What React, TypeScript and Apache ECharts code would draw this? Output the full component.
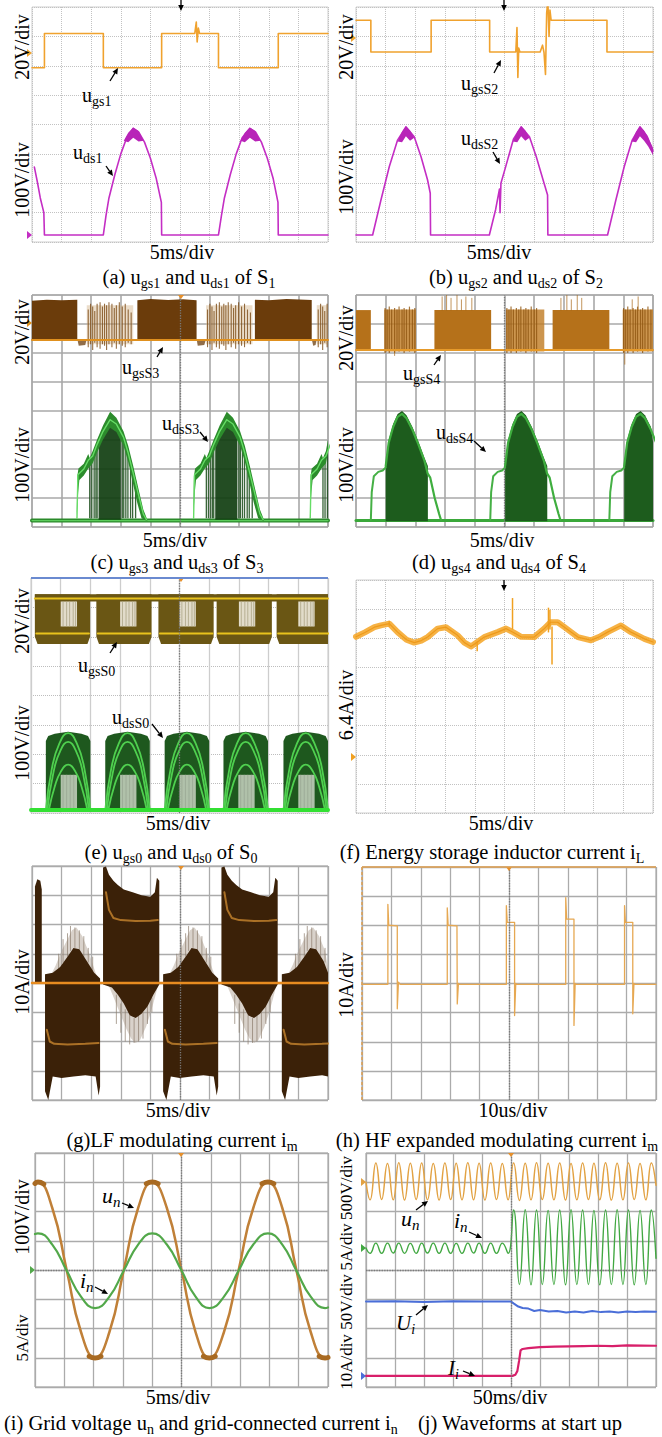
import React, { useEffect, useRef } from 'react';
import * as echarts from 'echarts';

type P = [number, number];
type V = [number, number, number];

// ---------------- (a) S1 ----------------
const A_UGS1: P[] = [[0,5.93],[0.42,5.93],[0.42,7.1],[2.41,7.1],[2.41,5.93],[4.38,5.93],[4.38,7.1],[5.5,7.1],[5.55,7.49],[5.58,6.81],[5.62,7.28],[5.66,7.1],[6.3,7.1],[6.3,5.93],[8.32,5.93],[8.32,7.1],[10,7.1]];
const A_UDS1: P[] = [[0.08,2.55],[0.18,2.05],[0.28,1.5],[0.4,1.0],[0.42,0.24],[2.41,0.24],[2.5,0.9],[2.6,1.5],[2.8,2.3],[3.0,3.0],[3.2,3.55],[3.42,3.87],[3.6,3.75],[3.8,3.4],[4.0,2.85],[4.2,2.15],[4.37,1.35],[4.38,0.24],[6.3,0.24],[6.4,0.9],[6.5,1.5],[6.7,2.3],[6.9,3.0],[7.1,3.55],[7.36,3.87],[7.55,3.75],[7.75,3.4],[7.95,2.85],[8.15,2.15],[8.31,1.35],[8.32,0.24],[10,0.24]];
const A_UDS1_PEAKS: P[][] = [
  [[3.1,3.45],[3.25,3.72],[3.42,3.9],[3.6,3.78],[3.78,3.45],[3.6,3.42],[3.42,3.55],[3.25,3.4]],
  [[7.04,3.45],[7.19,3.72],[7.36,3.9],[7.54,3.78],[7.72,3.45],[7.54,3.42],[7.36,3.55],[7.19,3.4]],
];

// ---------------- (b) S2 ----------------
const B_UGS2: P[] = [[0,7.55],[0.5,7.55],[0.5,6.47],[2.53,6.47],[2.53,7.55],[4.5,7.55],[4.5,6.47],[5.38,6.47],[5.42,7.3],[5.45,5.6],[5.48,6.6],[5.52,6.47],[6.2,6.47],[6.28,6.7],[6.33,6.45],[6.38,5.7],[6.42,7.8],[6.46,8.2],[6.5,7.0],[6.53,7.9],[6.57,7.55],[8.45,7.55],[8.45,6.47],[10,6.47]];
const B_UDS2: P[] = [[0,0.24],[0.56,0.24],[0.84,1.43],[1.12,2.56],[1.4,3.47],[1.68,3.92],[1.96,3.58],[2.19,2.9],[2.41,2.11],[2.5,1.66],[2.51,0.24],[4.49,0.24],[4.7,1.1],[4.83,1.8],[4.85,1.0],[4.88,2.0],[5.05,2.6],[5.3,3.5],[5.56,3.92],[5.84,3.58],[6.07,2.9],[6.3,2.11],[6.45,1.6],[6.46,0.24],[8.47,0.24],[8.75,1.43],[9.03,2.56],[9.3,3.47],[9.56,3.92],[9.8,3.6],[10,3.1]];
const B_UDS2_PEAKS: P[][] = [
  [[1.4,3.42],[1.55,3.75],[1.68,3.94],[1.82,3.8],[1.96,3.55],[1.82,3.45],[1.68,3.6],[1.55,3.4]],
  [[5.28,3.42],[5.43,3.75],[5.56,3.94],[5.7,3.8],[5.84,3.55],[5.7,3.45],[5.56,3.6],[5.43,3.4]],
  [[9.28,3.42],[9.43,3.75],[9.56,3.94],[9.7,3.8],[9.84,3.55],[10,3.2],[10,2.95],[9.84,3.25],[9.7,3.45],[9.56,3.6],[9.43,3.4]],
];

// ---------------- (c) S3 ----------------
const C_GS_BLOCKS: P[][] = [
  [[0,6.48],[0,7.8],[0.5,7.84],[1.0,7.82],[1.53,7.84],[1.53,6.48]],
  [[3.56,6.48],[3.56,7.82],[4.0,7.86],[4.6,7.83],[5.1,7.85],[5.56,7.82],[5.56,6.48]],
  [[7.53,6.48],[7.53,7.84],[8.0,7.82],[8.6,7.86],[9.45,7.83],[9.45,6.48]],
];
const C_GS_SPARSE: P[][] = [
  [[1.85,6.3],[1.85,7.65],[3.42,7.65],[3.42,6.3]],
  [[5.88,6.3],[5.88,7.65],[7.45,7.65],[7.45,6.3]],
  [[9.62,6.3],[9.62,7.65],[10,7.65],[10,6.3]],
];
const C_GS_HATCH: V[] = [[1.9,6.2,7.5],[1.98,6.3,7.7],[2.05,6.1,7.6],[2.12,6.35,7.45],[2.2,6.2,7.7],[2.3,6.15,7.75],[2.38,6.3,7.6],[2.45,6.25,7.7],[2.52,6.1,7.65],[2.6,6.3,7.75],[2.7,6.2,7.7],[2.78,6.35,7.55],[2.85,6.15,7.65],[2.95,6.3,7.75],[3.05,6.25,7.6],[3.15,6.2,7.7],[3.25,6.35,7.5],[3.35,6.3,7.4]];
const C_GS_HATCH_SHIFT = [0, 4.03, 7.77];
const C_GS_DIPS: P[][] = [
  [[1.53,6.48],[1.58,6.25],[1.8,6.28],[1.85,6.48]],
  [[5.56,6.48],[5.6,6.25],[5.82,6.28],[5.88,6.48]],
  [[9.45,6.48],[9.5,6.25],[9.58,6.28],[9.62,6.48]],
];
const C_GS_BASE: P[] = [[0,6.45],[10,6.45]];
const C_DS_BAND: P[] = [[1.5,0.2],[1.51,0.3],[1.53,1.75],[1.57,2.02],[1.75,2.18],[1.9,2.52],[1.95,2.38],[2.05,2.62],[2.2,3.02],[2.4,3.5],[2.64,3.97],[2.85,3.77],[3.09,3.3],[3.25,2.8],[3.42,2.1],[3.6,1.3],[3.76,0.6],[3.87,0.32],[3.9,0.2],[3.7,0.3],[3.55,0.85],[3.4,1.55],[3.25,2.25],[3.09,2.8],[2.85,3.28],[2.64,3.42],[2.4,3.02],[2.2,2.58],[2.05,2.2],[1.9,2.02],[1.75,1.78],[1.6,1.62],[1.56,1.2]];
const C_DS_DARK: P[] = [[2.25,0.25],[2.25,3.0],[2.4,3.35],[2.64,3.8],[2.85,3.6],[3.0,3.25],[3.0,0.25]];
const C_DS_VL: V[] = [[1.95,0.3,2.3],[2.02,0.3,2.4],[2.1,0.3,2.6],[2.16,0.3,2.75],[2.2,0.3,2.85],[3.05,0.3,3.1],[3.1,0.3,3.0],[3.17,0.3,2.8],[3.24,0.3,2.6],[3.33,0.3,2.3],[3.4,0.3,2.0],[3.5,0.3,1.6]];
const C_DS_CORE: P[] = [[1.52,0.3],[1.55,1.8],[1.75,2.0],[1.9,2.3],[2.05,2.45],[2.2,2.85],[2.4,3.3],[2.64,3.7],[2.85,3.55],[3.09,3.1],[3.25,2.55],[3.42,1.85],[3.6,1.1],[3.76,0.45],[3.87,0.25]];
const C_DS_SHIFT = [0, 3.94, 7.88];
const C_DS_BASE: P[] = [[0,0.22],[10,0.22]];

// ---------------- (d) S4 ----------------
const D_GS_SOLID: P[][] = [
  [[0,6.1],[0,7.48],[0.5,7.48],[0.5,6.1]],
  [[2.64,6.1],[2.64,7.48],[4.55,7.48],[4.55,6.1]],
  [[6.62,6.1],[6.62,7.48],[8.53,7.48],[8.53,6.1]],
];
const D_GS_DENSE: P[][] = [
  [[0.95,6.05],[0.95,7.5],[2.02,7.5],[2.02,6.05]],
  [[5.05,6.05],[5.05,7.5],[6.34,7.5],[6.34,6.05]],
  [[8.98,6.05],[8.98,7.5],[10,7.5],[10,6.05]],
];
const D_GS_VL: V[] = [[0.98,6.0,7.55],[1.05,6.1,7.5],[1.12,6.0,7.6],[1.2,6.1,7.5],[1.3,6.0,7.55],[1.38,6.1,7.5],[1.45,6.05,7.6],[1.55,6.1,7.5],[1.62,6.0,7.55],[1.7,6.1,7.5],[1.8,6.05,7.6],[1.9,6.1,7.5],[1.98,6.0,7.55]];
const D_GS_VL_SHIFT = [0, 4.1, 8.03];
const D_GS_SPIKES: V[] = [[2.9,7.45,7.95],[3.05,7.45,8.0],[3.2,7.45,7.9],[3.4,7.45,8.0],[3.55,7.45,7.85],[3.7,7.45,7.95],[3.9,7.45,7.9],[6.9,7.45,7.9],[7.1,7.45,8.0],[7.25,7.45,7.85],[7.45,7.45,8.0],[7.6,7.45,7.9],[9.3,7.45,7.85],[9.5,7.45,7.95],[9.05,5.6,6.1],[1.3,5.9,6.1]];
const D_GS_BASE: P[] = [[0,6.1],[10,6.1]];
const D_DS_RISE: P[] = [[0.5,0.25],[0.53,1.2],[0.6,1.75],[0.75,1.9],[0.9,1.95],[1.0,2.05]];
const D_DS_DARK: P[] = [[1.0,0.2],[1.0,2.2],[1.1,3.0],[1.25,3.55],[1.4,3.9],[1.55,4.0],[1.7,3.85],[1.9,3.45],[2.1,2.95],[2.3,2.4],[2.42,2.1],[2.42,0.2]];
const D_DS_TOP: P[] = [[1.0,2.1],[1.1,2.9],[1.25,3.45],[1.4,3.8],[1.55,3.9],[1.7,3.75],[1.9,3.35],[2.1,2.85],[2.3,2.3],[2.41,1.85],[2.5,1.7],[2.65,1.0],[2.8,0.45],[2.86,0.25]];
const D_DS_SHIFT = [0, 4.02, 8.03];
const D_DS_BASE: P[] = [[0,0.22],[10,0.22]];

// ---------------- (e) S0 ----------------
const E_GS_CUP: P[] = [[0.13,7.45],[1.99,7.45],[1.99,6.0],[1.9,5.75],[0.22,5.75],[0.13,6.0]];
const E_GS_SHIFT = [0, 2.07, 4.16, 6.12, 8.14];
const E_GS_TOPBAND: P[] = [[0.13,7.2],[0.13,7.45],[10,7.45],[10,7.2]];
const E_GS_STRIPE: P[] = [[1.0,6.35],[1.0,7.2],[1.55,7.2],[1.55,6.35]];
const E_STRIPE_SHIFT = [0, 2, 4, 6, 8];
const E_GS_STRIPE_VL: V[] = [[1.08,6.35,7.2],[1.2,6.35,7.2],[1.3,6.35,7.2],[1.42,6.35,7.2],[1.5,6.35,7.2]];
const E_GS_HI: P[] = [[0.13,7.3],[10,7.3]];
const E_GS_LO: P[] = [[0.18,6.11],[1.95,6.11]];
const E_DS_HUMP: P[] = [[0.5,0.1],[0.5,2.45],[0.58,2.62],[0.8,2.7],[1.25,2.77],[1.7,2.7],[1.92,2.62],[2.0,2.45],[2.0,0.1]];
const E_DS_SHIFT = [0, 2.0, 4.0, 5.98, 8.0];
const E_DS_ARCS: P[][] = [
  [[0.5,0.1],[0.7,1.5],[0.95,2.35],[1.25,2.72],[1.55,2.35],[1.8,1.5],[2.0,0.1]],
  [[0.55,0.1],[0.75,1.35],[0.98,2.1],[1.25,2.42],[1.52,2.1],[1.75,1.35],[1.95,0.1]],
  [[0.6,0.1],[0.8,0.9],[1.0,1.4],[1.25,1.65],[1.5,1.4],[1.7,0.9],[1.9,0.1]],
];
const E_DS_STRIPE: P[] = [[1.0,0.14],[1.0,1.3],[1.55,1.3],[1.55,0.14]];
const E_DS_STRIPE_VL: V[] = [[1.08,0.14,1.3],[1.2,0.14,1.3],[1.32,0.14,1.3],[1.44,0.14,1.3]];
const E_DS_BASE: P[] = [[0,0.1],[10,0.1]];

// ---------------- (f) iL ----------------
const F_IL: P[] = [[0,6.05],[0.3,6.2],[0.62,6.38],[0.84,6.44],[1.12,6.5],[1.4,6.21],[1.7,5.95],[1.96,5.85],[2.2,5.92],[2.41,6.04],[2.75,6.33],[3.03,6.38],[3.42,6.1],[3.65,5.85],[3.87,5.72],[4.1,5.88],[4.32,6.04],[4.77,6.21],[5.05,6.33],[5.3,6.2],[5.56,6.05],[6.0,6.04],[6.34,6.33],[6.55,6.55],[6.79,6.55],[7.02,6.38],[7.47,6.04],[7.91,5.93],[8.2,6.05],[8.47,6.21],[8.92,6.44],[9.26,6.21],[9.71,5.98],[10,5.87]];
const F_SPIKES: V[] = [[5.27,6.3,7.38],[6.48,6.2,7.05],[6.53,6.3,6.98],[6.6,5.1,6.4],[4.08,5.55,5.9],[1.12,6.4,6.6]];

// ---------------- (g) LF im ----------------
const G_UP_DARK: P[] = [[2.4,3.95],[2.4,7.95],[2.5,7.98],[2.6,7.7],[2.75,7.5],[2.9,7.35],[3.1,7.2],[3.4,7.1],[3.7,7.0],[4.0,6.95],[4.15,7.1],[4.22,7.6],[4.3,7.5],[4.3,3.95],[4.1,3.6],[3.9,3.2],[3.7,2.95],[3.5,2.8],[3.3,2.9],[3.1,3.3],[2.9,3.6],[2.7,3.85]];
const G_UP_LIGHT: P[] = [[2.6,3.9],[2.8,3.4],[3.0,2.9],[3.2,2.4],[3.35,2.1],[3.5,1.95],[3.65,2.05],[3.85,2.5],[4.0,2.95],[4.15,3.5],[4.25,3.9]];
const G_DOWN_DARK: P[] = [[0.44,4.3],[0.7,4.35],[0.95,4.55],[1.2,4.9],[1.4,5.2],[1.6,5.15],[1.85,4.75],[2.1,4.35],[2.3,4.15],[2.3,0.45],[2.25,0.15],[2.15,0.8],[1.8,0.85],[1.4,0.8],[1.0,0.75],[0.7,0.8],[0.55,0.0],[0.44,0.3]];
const G_DOWN_LIGHT: P[] = [[0.6,4.2],[0.8,4.6],[1.0,5.1],[1.2,5.5],[1.35,5.8],[1.5,5.9],[1.7,5.6],[1.9,5.1],[2.1,4.5],[2.2,4.2]];
const G_UP_SHIFT = [0, 4.0];
const G_DOWN_SHIFT = [0, 3.99, 8.0];
const G_UP_SPIKES: V[] = [[2.85,2.6,3.6],[3.0,2.3,3.3],[3.15,2.0,3.1],[3.3,1.9,2.9],[3.45,1.95,2.8],[3.6,2.0,2.9],[3.75,2.1,3.0],[3.9,2.6,3.2],[4.05,3.0,3.5]];
const G_DOWN_SPIKES: V[] = [[0.9,4.5,5.0],[1.05,4.7,5.5],[1.2,4.9,5.7],[1.3,5.1,5.95],[1.45,5.2,5.9],[1.6,5.15,5.8],[1.75,4.9,5.6],[1.9,4.7,5.2],[2.05,4.4,4.9]];
const G_LEFT_UP: P[] = [[0.1,4.0],[0.1,7.3],[0.18,7.55],[0.28,7.5],[0.33,7.2],[0.33,4.0]];
const G_UP_INNER: P[] = [[2.5,7.1],[2.6,6.5],[2.75,6.22],[3.0,6.15],[3.5,6.12],[4.0,6.13],[4.25,6.15]];
const G_DOWN_INNER: P[] = [[0.5,2.4],[0.6,2.0],[0.75,1.92],[1.2,1.9],[1.8,1.92],[2.25,1.95]];
const G_CENTER: P[] = [[0,4.0],[10,4.0]];

// ---------------- (h) HF im ----------------
const H_IM: P[] = [[0,3.97],[0.88,3.97],[0.88,6.72],[0.91,6.0],[1.2,5.98],[1.2,3.13],[1.24,4.05],[1.3,3.97],[2.9,3.97],[2.9,6.6],[2.93,6.0],[3.23,5.98],[3.24,3.3],[3.28,4.0],[3.32,3.97],[4.91,3.97],[4.91,6.67],[4.94,6.1],[5.19,6.1],[5.19,2.9],[5.23,4.0],[5.27,3.97],[6.93,3.97],[6.93,6.95],[6.96,6.21],[7.21,6.21],[7.21,2.56],[7.25,4.0],[7.29,3.97],[8.93,3.97],[8.93,6.67],[8.96,6.1],[9.21,6.1],[9.21,2.96],[9.25,4.0],[9.29,3.97],[10,3.97]];

// ---------------- (i) un, in ----------------
const I_UN: P[] = [[0,6.97],[0.1,7.0],[0.59,6.12],[1.08,4.0],[1.57,1.88],[2.05,1.0],[2.54,1.88],[3.03,4.0],[3.52,6.12],[4.0,7.0],[4.5,6.12],[5.0,4.0],[5.48,1.88],[5.95,1.0],[6.45,1.88],[6.95,4.0],[7.45,6.12],[7.95,7.0],[8.44,6.12],[8.92,4.0],[9.41,1.88],[9.9,1.0],[10,1.03]];
const I_UN_THICK: P[][] = [
  [[0,6.96],[0.1,7.01],[0.3,6.94]],
  [[1.85,1.05],[2.05,0.99],[2.25,1.05]],
  [[3.8,6.95],[4.0,7.01],[4.2,6.95]],
  [[5.75,1.05],[5.95,0.99],[6.15,1.05]],
  [[7.75,6.95],[7.95,7.01],[8.15,6.95]],
  [[9.7,1.05],[9.9,0.99],[10,1.01]],
];
const I_IN: P[] = [[0,5.23],[0.1,5.25],[0.59,4.87],[1.08,3.98],[1.57,3.09],[2.05,2.7],[2.54,3.09],[3.03,3.98],[3.52,4.87],[4.0,5.25],[4.5,4.87],[5.0,3.98],[5.48,3.09],[5.95,2.7],[6.45,3.09],[6.95,3.98],[7.45,4.87],[7.95,5.25],[8.44,4.87],[8.92,3.98],[9.41,3.09],[9.9,2.7],[10,2.72]];

// ---------------- (j) start up ----------------
const J_UN: P[] = [[0,7.0],[0.14,6.4],[0.34,7.66],[0.54,6.41],[0.74,7.64],[0.94,6.4],[1.13,7.67],[1.33,6.39],[1.53,7.65],[1.73,6.41],[1.92,7.66],[2.12,6.4],[2.32,7.64],[2.52,6.39],[2.72,7.66],[2.92,6.41],[3.11,7.65],[3.31,6.4],[3.51,7.67],[3.71,6.4],[3.9,7.65],[4.1,6.39],[4.3,7.66],[4.5,6.41],[4.7,7.64],[4.9,6.4],[5.09,7.66],[5.29,6.38],[5.49,7.65],[5.69,6.4],[5.88,7.67],[6.08,6.41],[6.28,7.65],[6.48,6.4],[6.68,7.66],[6.88,6.39],[7.07,7.64],[7.27,6.4],[7.47,7.66],[7.67,6.41],[7.86,7.65],[8.06,6.4],[8.26,7.67],[8.46,6.39],[8.66,7.65],[8.86,6.4],[9.05,7.66],[9.25,6.41],[9.45,7.64],[9.65,6.4],[9.84,7.66],[10,6.9]];
const J_IN: P[] = [[0,4.75],[0.14,4.57],[0.34,4.92],[0.54,4.57],[0.74,4.92],[0.94,4.58],[1.13,4.92],[1.33,4.57],[1.53,4.91],[1.73,4.57],[1.92,4.92],[2.12,4.58],[2.32,4.92],[2.52,4.57],[2.72,4.92],[2.92,4.57],[3.11,4.91],[3.31,4.57],[3.51,4.92],[3.71,4.58],[3.9,4.92],[4.1,4.57],[4.3,4.92],[4.5,4.57],[4.7,4.92],[4.9,4.57],[5.09,6.05],[5.29,3.5],[5.49,6.06],[5.69,3.49],[5.88,6.05],[6.08,3.5],[6.28,6.04],[6.48,3.5],[6.68,6.05],[6.88,3.49],[7.07,6.06],[7.27,3.5],[7.47,6.05],[7.67,3.5],[7.86,6.04],[8.06,3.49],[8.26,6.05],[8.46,3.5],[8.66,6.06],[8.86,3.5],[9.05,6.05],[9.25,3.49],[9.45,6.04],[9.65,3.5],[9.84,6.05],[10,4.4]];
const J_UI: P[] = [[0,2.92],[1,2.93],[2,2.91],[3,2.93],[4,2.92],[5.0,2.92],[5.1,2.85],[5.25,2.75],[5.4,2.7],[5.6,2.68],[5.8,2.6],[6.0,2.63],[6.3,2.58],[6.6,2.6],[6.9,2.55],[7.2,2.58],[7.5,2.55],[7.8,2.6],[8.1,2.56],[8.4,2.58],[8.7,2.55],[9.0,2.58],[9.3,2.56],[9.6,2.58],[10,2.57]];
const J_II: P[] = [[0,0.38],[5.05,0.38],[5.15,0.42],[5.22,0.55],[5.28,0.9],[5.33,1.25],[5.4,1.3],[5.6,1.33],[6.0,1.36],[6.5,1.38],[7.0,1.39],[7.5,1.4],[8.0,1.41],[8.5,1.4],[9.0,1.42],[10,1.41]];

// ---------------- helpers ----------------
const SERIF = 'Liberation Serif, serif';
const clampX = (x: number) => Math.max(0, Math.min(10, x));
const shiftPoly = (pts: P[], dx: number): P[] => pts.map(([x, y]) => [clampX(x + dx), y] as P);
const shiftLine = (pts: P[], dx: number): P[] => pts.map(([x, y]) => [x + dx, y] as P);
const shiftV = (rows: V[], dx: number): V[] => rows.filter((r) => r[0] + dx <= 10).map(([x, a, b]) => [x + dx, a, b] as V);

const LINE = (gi: number, data: P[], color: string, width: number, extra: any = {}) => ({
  type: 'line', xAxisIndex: gi, yAxisIndex: gi, data, symbol: 'none', showSymbol: false, silent: true,
  clip: true, smooth: extra.smooth ?? false, z: extra.z ?? 3,
  lineStyle: { color, width, opacity: extra.opacity ?? 1, cap: 'round', join: 'round' },
});
const POLY = (gi: number, pts: P[], color: string, opacity = 1, z = 2) => ({
  type: 'custom', xAxisIndex: gi, yAxisIndex: gi, silent: true, clip: true, z,
  data: pts,
  renderItem: (params: any, api: any) => {
    if (params.dataIndex !== 0) return null;
    return { type: 'polygon', shape: { points: pts.map((p) => api.coord(p)) }, style: { fill: color, opacity } };
  },
});
const VL = (gi: number, rows: V[], color: string, width: number, opacity = 1, z = 3) => ({
  type: 'custom', xAxisIndex: gi, yAxisIndex: gi, silent: true, clip: true, z,
  data: rows, encode: { x: 0, y: [1, 2] },
  renderItem: (params: any, api: any) => {
    const a = api.coord([api.value(0), api.value(1)]);
    const b = api.coord([api.value(0), api.value(2)]);
    return { type: 'line', shape: { x1: a[0], y1: a[1], x2: b[0], y2: b[1] }, style: { stroke: color, lineWidth: width, opacity } };
  },
});
const CENTER = (gi: number, vert: boolean, horiz: boolean) => ({
  type: 'line', xAxisIndex: gi, yAxisIndex: gi, data: [], silent: true, symbol: 'none', z: 1,
  markLine: {
    silent: true, symbol: ['none', 'none'], label: { show: false }, animation: false,
    lineStyle: { color: '#7a7a7a', type: 'dotted', width: 1.3 },
    data: [...(vert ? [{ xAxis: 5 }] : []), ...(horiz ? [{ yAxis: 4 }] : [])],
  },
});

const GRIDS = [
  { left: 32, top: 7, width: 296, height: 235, kind: 'dot' },
  { left: 356, top: 7, width: 297, height: 235, kind: 'dot' },
  { left: 32, top: 295, width: 296, height: 232, kind: 'heavy' },
  { left: 356, top: 295, width: 297, height: 232, kind: 'heavy' },
  { left: 31, top: 578, width: 297, height: 235, kind: 'e' },
  { left: 356, top: 580, width: 297, height: 233, kind: 'dot' },
  { left: 32, top: 866, width: 296, height: 234, kind: 'solid' },
  { left: 362, top: 867, width: 294, height: 233, kind: 'solid' },
  { left: 35, top: 1153, width: 293, height: 234, kind: 'solid' },
  { left: 366, top: 1153, width: 290, height: 234, kind: 'solid' },
];

const lineStyles: any = {
  dot: { x: { color: '#c2c2c2', type: 'dotted', width: 1 }, y: { color: '#c2c2c2', type: 'dotted', width: 1 }, border: '#cfcfcf' },
  heavy: { x: { color: '#a8a8a8', width: 1.6 }, y: { color: '#a8a8a8', width: 1.6 }, border: '#9a9a9a' },
  e: { x: { color: '#cdcdcd', width: 1.3 }, y: { color: '#bdbdbd', type: 'dotted', width: 1 }, border: '#c8c8c8' },
  solid: { x: { color: '#ababab', width: 1.3 }, y: { color: '#ababab', width: 1.3 }, border: '#9a9a9a' },
};

// ---------------- text helpers ----------------
const subStyle = (size: number, italic: boolean) => ({
  fontSize: Math.round(size * 0.68), fontFamily: SERIF, fontStyle: italic ? 'italic' : 'normal',
  verticalAlign: 'bottom', lineHeight: Math.round(size * 0.68) + 2, fill: '#000',
});
const TXT = (x: number, y: number, text: string, size: number, opts: any = {}) => ({
  type: 'text', x, y, silent: true, z: 100, rotation: opts.rot || 0,
  style: {
    text, fontSize: size, fontFamily: SERIF, fontStyle: opts.italic ? 'italic' : 'normal', fill: '#000',
    align: opts.align || 'center', verticalAlign: 'middle', lineHeight: size + 6,
    rich: { s: subStyle(size, !!opts.italic) },
  },
});
const ARROW = (x1: number, y1: number, x2: number, y2: number) => {
  const ang = Math.atan2(y2 - y1, x2 - x1);
  const c = Math.cos(ang), s = Math.sin(ang);
  const Lh = 6, W = 2.8;
  const bx = x2 - Lh * c, by = y2 - Lh * s;
  return [
    { type: 'line', silent: true, z: 100, shape: { x1, y1, x2: bx, y2: by }, style: { stroke: '#000', lineWidth: 1.3 } },
    { type: 'polygon', silent: true, z: 100, shape: { points: [[x2, y2], [bx + W * s, by - W * c], [bx - W * s, by + W * c]] }, style: { fill: '#000' } },
  ];
};
const TRI = (pts: number[][], color: string) => ({ type: 'polygon', silent: true, z: 90, shape: { points: pts }, style: { fill: color } });

function buildOption() {
  const grid = GRIDS.map((g) => ({
    left: g.left, top: g.top, width: g.width, height: g.height, show: true,
    borderColor: lineStyles[g.kind].border, borderWidth: 1, backgroundColor: 'transparent',
  }));
  const xAxis = GRIDS.map((g, i) => ({
    gridIndex: i, type: 'value', min: 0, max: 10, interval: 1,
    axisLabel: { show: false }, axisTick: { show: false }, axisLine: { show: false },
    splitLine: { show: true, lineStyle: lineStyles[g.kind].x },
  }));
  const yAxis = GRIDS.map((g, i) => ({
    gridIndex: i, type: 'value', min: 0, max: 8, interval: 1,
    axisLabel: { show: false }, axisTick: { show: false }, axisLine: { show: false },
    splitLine: { show: true, lineStyle: lineStyles[g.kind].y },
  }));

  const S: any[] = [];
  [2, 3, 4, 6, 7].forEach((gi) => S.push(CENTER(gi, true, false)));
  S.push(CENTER(8, true, true));
  S.push(CENTER(9, true, true));

  // (a)
  S.push(LINE(0, A_UGS1, '#f0a22e', 1.6));
  S.push(LINE(0, A_UDS1, '#c42ec4', 1.6));
  A_UDS1_PEAKS.forEach((p) => S.push(POLY(0, p, '#b824b8', 1, 4)));

  // (b)
  S.push(LINE(1, B_UGS2, '#f0a22e', 1.6));
  S.push(LINE(1, B_UDS2, '#c42ec4', 1.6));
  B_UDS2_PEAKS.forEach((p) => S.push(POLY(1, p, '#b824b8', 1, 4)));

  // (c)
  C_GS_SPARSE.forEach((p) => S.push(POLY(2, p, '#d2b48a', 0.45)));
  C_GS_HATCH_SHIFT.forEach((dx) => S.push(VL(2, shiftV(C_GS_HATCH, dx), '#7a4a14', 1.1, 0.8)));
  C_GS_BLOCKS.forEach((p) => S.push(POLY(2, p, '#6b3c0b', 1, 3)));
  C_GS_DIPS.forEach((p) => S.push(POLY(2, p, '#6b3c0b', 0.75, 3)));
  S.push(LINE(2, C_GS_BASE, '#e0901e', 2, { z: 4 }));
  S.push(LINE(2, C_DS_BASE, '#2a8a2a', 4, { z: 3 }));
  S.push(LINE(2, C_DS_BASE, '#5ccc5c', 1.2, { z: 3 }));
  C_DS_SHIFT.forEach((dx) => {
    S.push(POLY(2, shiftPoly(C_DS_DARK, dx), '#103e10', 0.92, 4));
    S.push(VL(2, shiftV(C_DS_VL, dx), '#164a16', 1.3, 0.85, 4));
    S.push(POLY(2, shiftPoly(C_DS_BAND, dx), '#2c8c2c', 1, 5));
    S.push(LINE(2, shiftLine(C_DS_CORE, dx), '#66dd66', 1.4, { z: 6 }));
  });

  // (d)
  D_GS_DENSE.forEach((p) => S.push(POLY(3, p, '#bf7a22', 0.8)));
  D_GS_VL_SHIFT.forEach((dx) => S.push(VL(3, shiftV(D_GS_VL, dx), '#8e5510', 1.2, 0.8)));
  D_GS_SOLID.forEach((p) => S.push(POLY(3, p, '#b5711a', 1, 3)));
  S.push(VL(3, D_GS_SPIKES, '#a86818', 1, 0.7));
  S.push(LINE(3, D_GS_BASE, '#e69a2a', 2, { z: 4 }));
  S.push(LINE(3, D_DS_BASE, '#3aa83a', 3, { z: 3 }));
  D_DS_SHIFT.forEach((dx) => {
    S.push(LINE(3, shiftLine(D_DS_RISE, dx), '#45b045', 2, { z: 4 }));
    S.push(POLY(3, shiftPoly(D_DS_DARK, dx), '#1d5c1d', 1, 4));
    S.push(LINE(3, shiftLine(D_DS_TOP, dx), '#3fae3f', 2.2, { z: 5 }));
  });

  // (e)
  E_GS_SHIFT.forEach((dx) => S.push(POLY(4, shiftPoly(E_GS_CUP, dx), '#6a5614', 1, 2)));
  S.push(POLY(4, E_GS_TOPBAND, '#6a5614', 1, 2));
  E_STRIPE_SHIFT.forEach((dx) => {
    S.push(POLY(4, shiftPoly(E_GS_STRIPE, dx), '#efebde', 0.9, 3));
    S.push(VL(4, shiftV(E_GS_STRIPE_VL, dx), '#a8a080', 1, 0.75, 3));
  });
  S.push(LINE(4, E_GS_HI, '#e8c21c', 2, { z: 4 }));
  E_GS_SHIFT.forEach((dx) => S.push(LINE(4, shiftLine(E_GS_LO, dx), '#e8c21c', 2, { z: 4 })));
  E_DS_SHIFT.forEach((dx) => {
    S.push(POLY(4, shiftPoly(E_DS_HUMP, dx), '#1e581e', 1, 2));
    S.push(POLY(4, shiftPoly(E_DS_STRIPE, dx), '#d4dccd', 0.8, 3));
    S.push(VL(4, shiftV(E_DS_STRIPE_VL, dx), '#9aa894', 1, 0.8, 3));
    E_DS_ARCS.forEach((a) => S.push(LINE(4, shiftLine(a, dx), '#4fd04f', 1.8, { smooth: true, z: 4 })));
  });
  S.push(LINE(4, E_DS_BASE, '#33e033', 4, { z: 5 }));

  // (f)
  S.push(LINE(5, F_IL, '#f5a525', 6, { opacity: 0.85 }));
  S.push(LINE(5, F_IL, '#ee9a1a', 1.2, { z: 4 }));
  S.push(VL(5, F_SPIKES, '#f0a020', 1.5, 1, 4));

  // (g)
  G_UP_SHIFT.forEach((dx) => S.push(POLY(6, shiftPoly(G_UP_LIGHT, dx), '#b4a698', 0.5, 2)));
  G_DOWN_SHIFT.forEach((dx) => S.push(POLY(6, shiftPoly(G_DOWN_LIGHT, dx), '#b4a698', 0.5, 2)));
  G_UP_SHIFT.forEach((dx) => S.push(VL(6, shiftV(G_UP_SPIKES, dx), '#8c7c6c', 1, 0.7, 2)));
  G_DOWN_SHIFT.forEach((dx) => S.push(VL(6, shiftV(G_DOWN_SPIKES, dx), '#8c7c6c', 1, 0.7, 2)));
  G_UP_SHIFT.forEach((dx) => S.push(POLY(6, shiftPoly(G_UP_DARK, dx), '#3b2108', 1, 3)));
  G_DOWN_SHIFT.forEach((dx) => S.push(POLY(6, shiftPoly(G_DOWN_DARK, dx), '#3b2108', 1, 3)));
  S.push(POLY(6, G_LEFT_UP, '#3b2108', 1, 3));
  G_UP_SHIFT.forEach((dx) => S.push(LINE(6, shiftLine(G_UP_INNER, dx), '#c8862e', 2, { opacity: 0.8, z: 4 })));
  G_DOWN_SHIFT.forEach((dx) => S.push(LINE(6, shiftLine(G_DOWN_INNER, dx), '#c8862e', 2, { opacity: 0.8, z: 4 })));
  S.push(LINE(6, G_CENTER, '#e88c20', 2.5, { z: 5 }));

  // (h)
  S.push(LINE(7, H_IM, '#e6a852', 1.3));

  // (i)
  S.push(LINE(8, I_UN, '#c08038', 2.5, { smooth: true }));
  I_UN_THICK.forEach((p) => S.push(LINE(8, p, '#a86a22', 5, { smooth: true, z: 4 })));
  S.push(LINE(8, I_IN, '#52a84a', 2.2, { smooth: true, z: 5 }));

  // (j)
  S.push(LINE(9, J_UN, '#e2a243', 1.5, { smooth: true }));
  S.push(LINE(9, J_IN, '#42a842', 1.4, { smooth: true }));
  S.push(LINE(9, J_UI, '#4a6ed8', 2));
  S.push(LINE(9, J_II, '#d81f6a', 2.2));

  // ---------------- graphics ----------------
  const G: any[] = [];
  const vl = [
    [22, 47, '20V/div', 20], [22, 180, '100V/div', 20],
    [346, 47, '20V/div', 20], [346, 177, '100V/div', 20],
    [22, 332, '20V/div', 20], [22, 465, '100V/div', 20],
    [346, 338, '20V/div', 20], [346, 465, '100V/div', 20],
    [22, 621, '20V/div', 20], [22, 743, '100V/div', 20],
    [346, 705, '6.4A/div', 20],
    [22, 982, '10A/div', 20],
    [346, 985, '10A/div', 20],
    [22, 1217, '100V/div', 20], [22, 1338, '5A/div', 17],
    [346, 1188, '500V/div', 17], [346, 1247, '5A/div', 17], [346, 1302, '50V/div', 17], [346, 1362, '10A/div', 17],
  ];
  vl.forEach(([x, y, t, s]: any) => G.push(TXT(x, y, t, s, { rot: Math.PI / 2 })));
  const xl = [
    [182, 252, '5ms/div'], [499, 252, '5ms/div'], [175, 540, '5ms/div'], [502, 540, '5ms/div'],
    [178, 823, '5ms/div'], [501, 823, '5ms/div'], [178, 1110, '5ms/div'], [513, 1110, '10us/div'],
    [178, 1397, '5ms/div'], [510, 1397, '50ms/div'],
  ];
  xl.forEach(([x, y, t]: any) => G.push(TXT(x, y, t, 20)));
  const caps = [
    [189, 277, '(a) u{s|gs1} and u{s|ds1} of S{s|1}', 'center'],
    [516, 277, '(b) u{s|gs2} and u{s|ds2} of S{s|2}', 'center'],
    [177, 562, '(c) u{s|gs3} and u{s|ds3} of S{s|3}', 'center'],
    [499, 562, '(d) u{s|gs4} and u{s|ds4} of S{s|4}', 'center'],
    [171, 852, '(e) u{s|gs0} and u{s|ds0} of S{s|0}', 'center'],
    [492, 852, '(f) Energy storage inductor current i{s|L}', 'center'],
    [182, 1140, '(g)LF modulating current i{s|m}', 'center'],
    [497, 1140, '(h) HF expanded modulating current i{s|m}', 'center'],
    [4, 1423, '(i) Grid voltage u{s|n} and grid-connected current i{s|n}', 'left'],
    [418, 1423, '(j) Waveforms at start up', 'left'],
  ];
  caps.forEach(([x, y, t, a]: any) => G.push(TXT(x, y, t, 20.5, { align: a })));
  const ann = [
    [82, 95, 'u{s|gs1}', 20, false], [73, 152, 'u{s|ds1}', 20, false],
    [461, 83, 'u{s|gsS2}', 20, false], [461, 138, 'u{s|dsS2}', 20, false],
    [122, 367, 'u{s|gsS3}', 20, false], [162, 423, 'u{s|dsS3}', 20, false],
    [403, 373, 'u{s|gsS4}', 20, false], [436, 432, 'u{s|dsS4}', 20, false],
    [78, 665, 'u{s|gsS0}', 20, false], [112, 717, 'u{s|dsS0}', 20, false],
    [102, 1195, 'u{s|n}', 22, true], [80, 1280, 'i{s|n}', 22, true],
    [401, 1218, 'u{s|n}', 22, true], [454, 1220, 'i{s|n}', 22, true],
    [396, 1323, 'U{s|i}', 21, true], [448, 1368, 'I{s|i}', 21, true],
  ];
  ann.forEach(([x, y, t, s, it]: any) => G.push(TXT(x, y, t, s, { align: 'left', italic: it })));
  const arrows = [
    [110, 81, 118, 68], [106, 166, 113, 176],
    [494, 73, 501, 60], [493, 152, 500, 164],
    [157, 357, 163, 347], [200, 432, 208, 442],
    [434, 365, 441, 355], [474, 441, 486, 452],
    [110, 653, 117, 642], [152, 724, 163, 738],
    [122, 1203, 134, 1208], [95, 1287, 108, 1294],
    [416, 1210, 428, 1201], [469, 1232, 482, 1238], [416, 1315, 428, 1305], [463, 1371, 475, 1376],
  ];
  arrows.forEach(([a, b, c, d]) => ARROW(a, b, c, d).forEach((e) => G.push(e)));
  [[181, 0, 181, 11], [504, 0, 504, 11], [504, 580, 504, 591]].forEach(([a, b, c, d]) => ARROW(a, b, c, d).forEach((e) => G.push(e)));
  G.push(TRI([[27, 49], [32, 53], [27, 57]], '#f0a22e'));
  G.push(TRI([[27, 231], [32, 235], [27, 239]], '#c42ec4'));
  G.push(TRI([[351, 34], [356, 38], [351, 42]], '#f0a22e'));
  G.push(TRI([[27, 319], [32, 323], [27, 327]], '#e0901e'));
  G.push(TRI([[351, 753], [356, 757], [351, 761]], '#f0a020'));
  G.push(TRI([[30, 1266], [35, 1270], [30, 1274]], '#52a84a'));
  G.push(TRI([[361, 1178], [366, 1182], [361, 1186]], '#e2a243'));
  G.push(TRI([[361, 1244], [366, 1248], [361, 1252]], '#42a842'));
  G.push(TRI([[361, 1372], [366, 1376], [361, 1380]], '#4a6ed8'));
  [[181, 295], [181, 578], [181, 866], [509, 867], [181, 1153], [511, 1153]].forEach(([x, y]) =>
    G.push(TRI([[x - 3, y], [x + 3, y], [x, y + 4]], '#e8902a')));
  G.push({ type: 'line', silent: true, z: 95, shape: { x1: 31, y1: 578, x2: 328, y2: 578 }, style: { stroke: '#6a8ad0', lineWidth: 2 } });
  G.push({ type: 'line', silent: true, z: 95, shape: { x1: 362, y1: 867, x2: 656, y2: 867 }, style: { stroke: '#e0a050', lineWidth: 1.5 } });
  G.push({ type: 'line', silent: true, z: 95, shape: { x1: 362, y1: 867, x2: 362, y2: 1100 }, style: { stroke: '#e0a050', lineWidth: 1.5, lineDash: [3, 2] } });

  return {
    animation: false,
    backgroundColor: '#ffffff',
    grid, xAxis, yAxis, series: S,
    graphic: { elements: G },
  };
}

export default function App() {
  const ref = useRef<HTMLDivElement>(null);
  useEffect(() => {
    const chart = echarts.init(ref.current as HTMLDivElement, null, { renderer: 'svg', width: 662, height: 1437 });
    chart.setOption(buildOption() as any);
    return () => chart.dispose();
  }, []);
  return <div ref={ref} style={{ position: 'absolute', left: 0, top: 0, width: 662, height: 1437, background: '#fff' }} />;
}
